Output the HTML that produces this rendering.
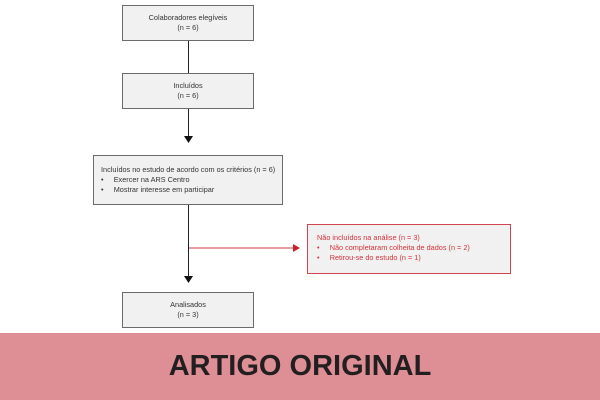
<!DOCTYPE html>
<html><head><meta charset="utf-8"><style>
body{margin:0;width:600px;height:400px;background:#fff;position:relative;overflow:hidden;font-family:"Liberation Sans",Arial,sans-serif}
.b{position:absolute;box-sizing:border-box;background:#f1f1f1;border:1.5px solid #6a6a6a;font-size:7.3px;color:#333;line-height:10px}
.c{text-align:center;display:flex;flex-direction:column;justify-content:center}
.l{position:absolute;background:#222}
.ban{position:absolute;left:0;top:333px;width:600px;height:67px;background:#de8f95}
.ban div{position:absolute;left:0;width:600px;top:17px;text-align:center;font-weight:bold;font-size:29px;color:#231f20}
</style></head><body>
<div class="b c" style="left:122px;top:5px;width:132px;height:36px">Colaboradores elegíveis<br>(n = 6)</div>
<div class="l" style="left:188px;top:41px;width:1px;height:32px"></div>
<div class="b c" style="left:122px;top:73px;width:132px;height:36px">Incluídos<br>(n = 6)</div>
<div class="l" style="left:188px;top:109px;width:1px;height:28px"></div>
<svg style="position:absolute;left:0;top:0" width="600" height="400">
<polygon points="184,136 193,136 188.5,143" fill="#111"/>
<polygon points="184,276 193,276 188.5,283" fill="#111"/>
<line x1="189" y1="248" x2="294" y2="248" stroke="#d23a45" stroke-width="1"/>
<polygon points="293,244 293,252 300,248" fill="#c8202c"/>
</svg>
<div class="b" style="left:93px;top:155px;width:190px;height:50px;padding:9px 0 0 7px">Incluídos no estudo de acordo com os critérios (n = 6)<br>•&nbsp;&nbsp;&nbsp;&nbsp;&nbsp;Exercer na ARS Centro<br>•&nbsp;&nbsp;&nbsp;&nbsp;&nbsp;Mostrar interesse em participar</div>
<div class="l" style="left:188px;top:205px;width:1px;height:72px"></div>
<div class="b" style="left:307px;top:224px;width:204px;height:50px;padding:8px 0 0 9px;border-color:#d0454f;color:#d2333d">Não incluídos na análise (n = 3)<br>•&nbsp;&nbsp;&nbsp;&nbsp;&nbsp;Não completaram colheita de dados (n = 2)<br>•&nbsp;&nbsp;&nbsp;&nbsp;&nbsp;Retirou-se do estudo (n = 1)</div>
<div class="b c" style="left:122px;top:292px;width:132px;height:36px">Analisados<br>(n = 3)</div>
<div class="ban"><div>ARTIGO ORIGINAL</div></div>
</body></html>
